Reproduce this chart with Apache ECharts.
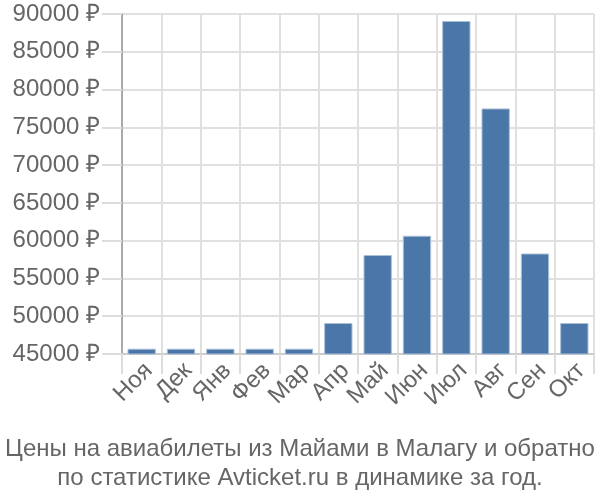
<!DOCTYPE html>
<html><head><meta charset="utf-8">
<script src="https://cdn.jsdelivr.net/npm/echarts@6/dist/echarts.min.js"></script>
<style>html,body{margin:0;padding:0;background:#fff}#c{width:600px;height:500px}</style>
</head><body><div id="c"></div>
<script>
const categories = ["Ноя","Дек","Янв","Фев","Мар","Апр","Май","Июн","Июл","Авг","Сен","Окт"];
const prices = [45700,45700,45700,45700,45700,49100,58100,60650,89070,77500,58300,49100];
const titleLines = ["Цены на авиабилеты из Майами в Малагу и обратно","по статистике Avticket.ru в динамике за год."];
const chart = echarts.init(document.getElementById('c'));
chart.setOption({
  animation:false,
  title:{text:titleLines.join('\n'),left:'center',top:430,textStyle:{fontFamily:'Liberation Sans, Arial',fontSize:24,fontWeight:'normal',color:'#666',lineHeight:29}},
  grid:{left:122,right:6,top:14,bottom:146},
  xAxis:{type:'category',data:categories,
    axisLine:{lineStyle:{color:'#ccc',width:2}},
    axisTick:{show:true,length:20,interval:0,lineStyle:{color:'#ddd',width:2}},
    splitLine:{show:true,interval:0,lineStyle:{color:'#e0e0e0',width:2}},
    axisLabel:{interval:0,rotate:45,fontFamily:'Liberation Sans, Arial',fontSize:24,color:'#666',margin:20,padding:[0,-10,0,0]}},
  yAxis:{type:'value',min:45000,max:90000,interval:5000,
    axisLine:{show:true,lineStyle:{color:'#aaa',width:2}},
    axisTick:{show:true,length:20,lineStyle:{color:'#ddd',width:2}},
    splitLine:{lineStyle:{color:'#e0e0e0',width:2}},
    axisLabel:{formatter:v=>v+' ₽',fontFamily:'Liberation Sans, Arial',fontSize:24,color:'#666',margin:22}},
  series:[{type:'bar',data:prices,barWidth:'72%',
    itemStyle:{color:'#4a76a8',borderColor:'#a9bfd8',borderWidth:1}}]
});
</script></body></html>
